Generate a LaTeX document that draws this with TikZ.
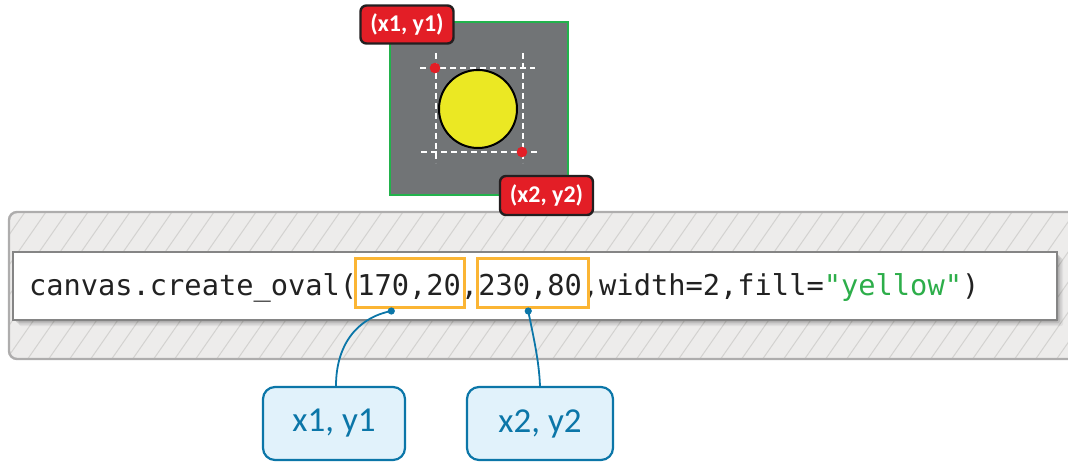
\documentclass[tikz,border=0pt]{standalone}
\usepackage{fontspec}
\setmonofont{DejaVu Sans Mono}
\newfontfamily\labelfont{Carlito}
\usetikzlibrary{calc}

\definecolor{panelbg}{HTML}{EDECEB}
\definecolor{hatchln}{HTML}{D3D2D0}
\definecolor{panelln}{HTML}{AEADAD}
\definecolor{boxln}{HTML}{858585}
\definecolor{codeink}{HTML}{222222}
\definecolor{strgreen}{HTML}{2DAE4A}
\definecolor{argorange}{HTML}{FBB534}
\definecolor{tagred}{HTML}{E31E26}
\definecolor{tagline}{HTML}{231F20}
\definecolor{canvasgray}{HTML}{717476}
\definecolor{canvasedge}{HTML}{22B24C}
\definecolor{ovalfill}{HTML}{EBE823}
\definecolor{noteblue}{HTML}{0B76A8}
\definecolor{notefill}{HTML}{E1F2FB}

\begin{document}
\begin{tikzpicture}[x=1pt, y=-1pt,
  codetxt/.style={inner sep=0pt, outer sep=0pt, anchor=base west,
    font=\ttfamily\fontsize{28.7}{32}\selectfont, text=codeink},
  codebox/.style={draw=boxln, line width=2.4pt, fill=white, inner sep=0pt},
  argbox/.style={draw=argorange, line width=3pt},
  redtag/.style={draw=tagline, fill=tagred, line width=2.4pt, rounded corners=6pt,
    text=white, font=\labelfont\bfseries\fontsize{24}{26}\selectfont, inner sep=0pt},
  canvasbox/.style={draw=canvasedge, fill=canvasgray, line width=1.8pt, inner sep=0pt},
  guide/.style={draw=white, line width=1.4pt, dash pattern=on 6pt off 4pt},
  ptred/.style={fill=tagred},
  notebox/.style={draw=noteblue, fill=notefill, line width=2.2pt, rounded corners=12pt,
    text=noteblue, font=\labelfont\fontsize{35}{38}\selectfont, inner sep=0pt},
  link/.style={draw=noteblue, line width=1.8pt},
  hatch/.style={draw=hatchln, line width=1pt}
]
\clip (0,0) rectangle (1068,462);

% hatched background panel behind the code line
\begin{scope}
  \clip[rounded corners=8pt] (9,212) rectangle (1090,359);
  \fill[panelbg] (0,200) rectangle (1100,370);
  \foreach \i in {-120,-99,...,1090}
    \draw[hatch] (\i,360) -- ++(103,-148);
\end{scope}
\draw[panelln, line width=2.4pt, rounded corners=8pt] (9,212) rectangle (1090,359);

% soft shadow under the code box
\foreach \s/\o in {6/0.05,4.5/0.07,3/0.09,1.5/0.1}
  \fill[black, opacity=\o, rounded corners=2pt] (13+\s,252+\s) rectangle (1057+\s,320+\s);

% code line
\node[codebox, minimum width=1044pt, minimum height=68pt] (codebox) at (535,286) {};
\node[codetxt] (c0) at (29,296) {canvas.create\_oval(};
\node[codetxt] (c1) at (c0.base east) {170,20};
\node[codetxt] (c2) at (c1.base east) {,};
\node[codetxt] (c3) at (c2.base east) {230,80};
\node[codetxt] (c4) at (c3.base east) {,width=2,fill=};
\node[codetxt, text=strgreen] (c5) at (c4.base east) {"yellow"};
\node[codetxt] (c6) at (c5.base east) {)};

% highlighted argument pairs
\draw[argbox] ($(c1.base west)+(-1.5,-37)$) rectangle ($(c1.base east)+(4,12)$);
\draw[argbox] ($(c3.base west)+(-1,-37)$) rectangle ($(c3.base east)+(7,12)$);

% canvas preview with the oval and its bounding points
\node[canvasbox, minimum width=178pt, minimum height=173pt] (cv) at (479,108.5) {};
\coordinate (p1) at (435,68);
\coordinate (p2) at (522,152);
\draw[guide] ($(p1)+(-15,0)$) -- ($(p1)+(100,0)$);
\draw[guide] ($(p2)+(-101,0)$) -- ($(p2)+(16,0)$);
\draw[guide] ($(p1)+(1,-15)$) -- ($(p1)+(1,95)$);
\draw[guide] ($(p2)+(1,-99)$) -- ($(p2)+(1,11)$);
\node[circle, draw=black, fill=ovalfill, line width=2pt, minimum size=78pt, inner sep=0pt] (oval) at (478,109) {};
\fill[ptred] (p1) circle (5.3);
\fill[ptred] (p2) circle (5.3);

\node[redtag, minimum width=93pt, minimum height=38pt] (t1) at (407,24.5) {(x1, y1)};
\node[redtag, minimum width=93pt, minimum height=39pt] (t2) at (546.5,195.5) {(x2, y2)};

% callouts naming the argument pairs
\node[notebox, minimum width=142pt, minimum height=73pt] (b1) at (334,423.5) {x1, y1};
\node[notebox, minimum width=146pt, minimum height=73pt] (b2) at (540,423.5) {x2, y2};
\coordinate (d1) at ($(c1.base west)+(34,15)$);
\coordinate (d2) at ($(c3.base west)+(50,15)$);
\draw[link] (d1) .. controls (356,318) and (336,346) .. ($(b1.north)+(2,0)$);
\draw[link] (d2) .. controls (533,335) and (539,360) .. (b2.north);
\fill[noteblue] (d1) circle (3.6);
\fill[noteblue] (d2) circle (3.6);
\end{tikzpicture}
\end{document}
